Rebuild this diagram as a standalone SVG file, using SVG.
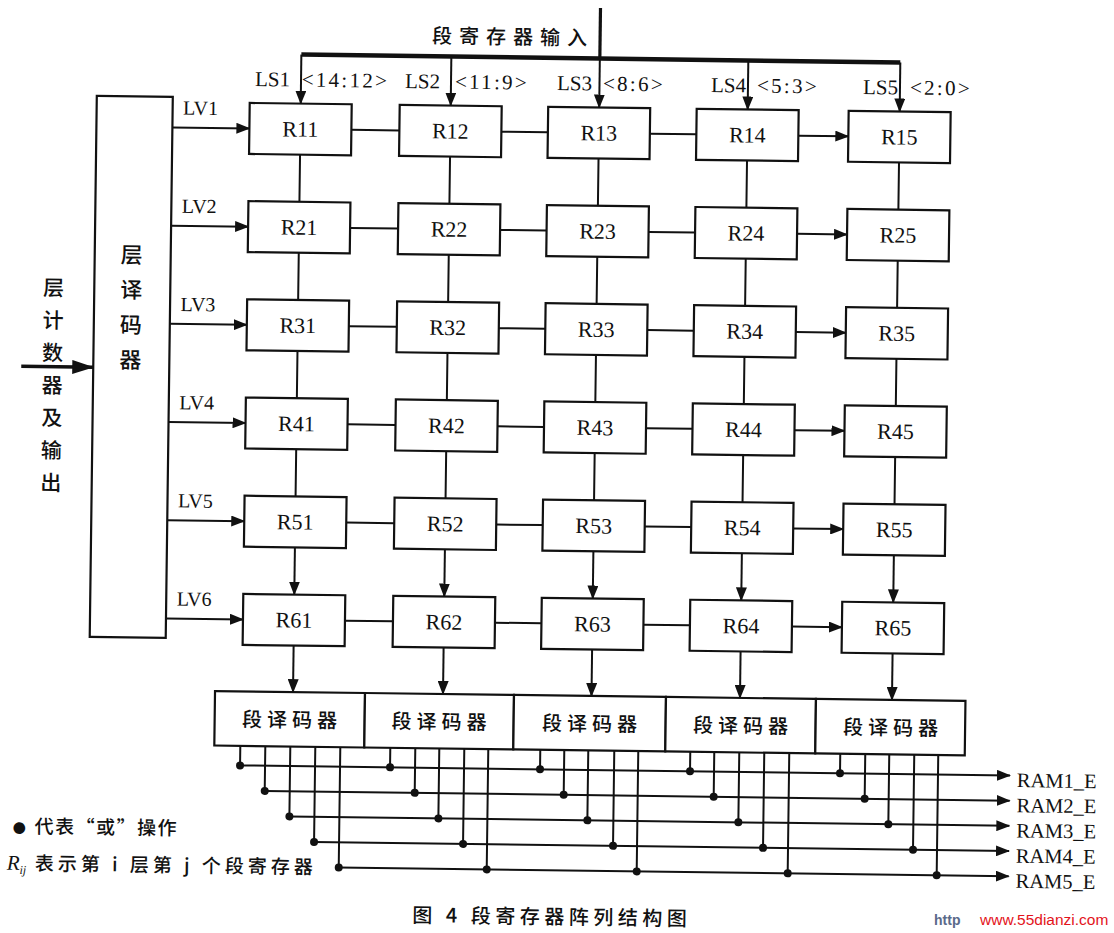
<svg xmlns="http://www.w3.org/2000/svg" width="1114" height="933" viewBox="0 0 1114 933">
<defs>
<style>
.box{fill:#fff;stroke:#111;stroke-width:2.2}
.ln{fill:none;stroke:#111;stroke-width:2}
.arr{fill:none;stroke:#111;stroke-width:2;marker-end:url(#ah)}
.bus{fill:none;stroke:#111;stroke-width:4.5}
.dot{fill:#111}
.lat{font-family:"Liberation Serif","Times New Roman",serif;fill:#111}
.cjk{font-family:"Noto Sans CJK SC","Noto Sans CJK JP",sans-serif;fill:#111;font-weight:500}
.rl{font-size:22px;text-anchor:middle}
.ls{font-size:21px}
.rng{font-size:21px;letter-spacing:2.3px}
.lv{font-size:20px}
.ram{font-size:20.5px}
.dec{font-size:20px;letter-spacing:5px;text-anchor:middle}
.vt{font-size:22px;text-anchor:middle}
</style>
<marker id="ah" viewBox="0 0 14 11" markerWidth="14" markerHeight="11" refX="13" refY="5.5" orient="auto" markerUnits="userSpaceOnUse"><path d="M0,0L14,5.5L0,11z" fill="#111"/></marker>
<marker id="ahb" viewBox="0 0 22 14" markerWidth="22" markerHeight="14" refX="21" refY="7" orient="auto" markerUnits="userSpaceOnUse"><path d="M0,0L22,7L0,14z" fill="#111"/></marker>
</defs>
<rect width="1114" height="933" fill="#fff"/>
<g transform="rotate(0.75 557 466)">
<g id="connectors">
  <path class="ln" style="stroke-width:3.2" d="M594.5 7.4V58"/>
  <path class="bus" d="M296 58H895"/>
  <path class="arr" d="M296 58V107"/>
  <path class="arr" d="M446 58V107"/>
  <path class="arr" d="M594.5 58V107"/>
  <path class="arr" d="M743 58V107"/>
  <path class="arr" d="M895 58V107"/>
  <path class="arr" d="M168 132.5H245"/>
  <path class="arr" d="M168 230.7H245"/>
  <path class="arr" d="M168 328.9H245"/>
  <path class="arr" d="M168 427.1H245"/>
  <path class="arr" d="M168 525.3H245"/>
  <path class="arr" d="M168 623.5H245"/>
  <path class="ln" style="stroke-width:3.5;marker-end:url(#ahb)" d="M20 373.3H92"/>
  <path class="ln" d="M347 132.5H395M497 132.5H543.5M645.5 132.5H692M347 230.7H395M497 230.7H543.5M645.5 230.7H692M347 328.9H395M497 328.9H543.5M645.5 328.9H692M347 427.1H395M497 427.1H543.5M645.5 427.1H692M347 525.3H395M497 525.3H543.5M645.5 525.3H692M347 623.5H395M497 623.5H543.5M645.5 623.5H692"/>
  <path class="arr" d="M794 132.5H844"/>
  <path class="arr" d="M794 230.7H844"/>
  <path class="arr" d="M794 328.9H844"/>
  <path class="arr" d="M794 427.1H844"/>
  <path class="arr" d="M794 525.3H844"/>
  <path class="arr" d="M794 623.5H844"/>
  <path class="ln" d="M296 158V205.2M296 256.2V303.4M296 354.4V401.6M296 452.6V499.8M446 158V205.2M446 256.2V303.4M446 354.4V401.6M446 452.6V499.8M594.5 158V205.2M594.5 256.2V303.4M594.5 354.4V401.6M594.5 452.6V499.8M743 158V205.2M743 256.2V303.4M743 354.4V401.6M743 452.6V499.8M895 158V205.2M895 256.2V303.4M895 354.4V401.6M895 452.6V499.8"/>
  <path class="arr" d="M296 550.8V598"/>
  <path class="arr" d="M446 550.8V598"/>
  <path class="arr" d="M594.5 550.8V598"/>
  <path class="arr" d="M743 550.8V598"/>
  <path class="arr" d="M895 550.8V598"/>
  <path class="arr" d="M296 649V695.5"/>
  <path class="arr" d="M446 649V695.5"/>
  <path class="arr" d="M594.5 649V695.5"/>
  <path class="arr" d="M743 649V695.5"/>
  <path class="arr" d="M895 649V695.5"/>
  <path class="ln" d="M244 750V769.5M269 750V794.7M294 750V819.9M319 750V845.1M344 750V870.3M394 750V769.5M419 750V794.7M443 750V819.9M468 750V845.1M492 750V870.3M544 750V769.5M568 750V794.7M592 750V819.9M618 750V845.1M642 750V870.3M694 750V769.5M718 750V794.7M743 750V819.9M768 750V845.1M793 750V870.3M844 750V769.5M869 750V794.7M893 750V819.9M918 750V845.1M942 750V870.3"/>
  <path class="arr" d="M244 769.5H1014"/>
  <path class="arr" d="M269 794.7H1014"/>
  <path class="arr" d="M294 819.9H1014"/>
  <path class="arr" d="M319 845.1H1014"/>
  <path class="arr" d="M344 870.3H1014"/>
  <g class="dot">
    <circle cx="244" cy="769.5" r="4"/><circle cx="394" cy="769.5" r="4"/><circle cx="544" cy="769.5" r="4"/><circle cx="694" cy="769.5" r="4"/><circle cx="844" cy="769.5" r="4"/>
    <circle cx="269" cy="794.7" r="4"/><circle cx="419" cy="794.7" r="4"/><circle cx="568" cy="794.7" r="4"/><circle cx="718" cy="794.7" r="4"/><circle cx="869" cy="794.7" r="4"/>
    <circle cx="294" cy="819.9" r="4"/><circle cx="443" cy="819.9" r="4"/><circle cx="592" cy="819.9" r="4"/><circle cx="743" cy="819.9" r="4"/><circle cx="893" cy="819.9" r="4"/>
    <circle cx="319" cy="845.1" r="4"/><circle cx="468" cy="845.1" r="4"/><circle cx="618" cy="845.1" r="4"/><circle cx="768" cy="845.1" r="4"/><circle cx="918" cy="845.1" r="4"/>
    <circle cx="344" cy="870.3" r="4"/><circle cx="492" cy="870.3" r="4"/><circle cx="642" cy="870.3" r="4"/><circle cx="793" cy="870.3" r="4"/><circle cx="942" cy="870.3" r="4"/>
  </g>
</g>

<g id="input-label"><text class="cjk" x="507.5" y="44.7" font-size="20" letter-spacing="7" text-anchor="middle">段寄存器输入</text></g>
<g id="ls-labels">
  <text class="lat ls" x="250" y="90">LS1</text><text class="lat rng" x="296.7" y="90">&lt;14:12&gt;</text>
  <text class="lat ls" x="400" y="90">LS2</text><text class="lat rng" x="450" y="90">&lt;11:9&gt;</text>
  <text class="lat ls" x="552" y="90">LS3</text><text class="lat rng" x="598" y="90">&lt;8:6&gt;</text>
  <text class="lat ls" x="706" y="90">LS4</text><text class="lat rng" x="752" y="90">&lt;5:3&gt;</text>
  <text class="lat ls" x="858" y="90">LS5</text><text class="lat rng" x="905" y="90">&lt;2:0&gt;</text>
</g>
<g id="lv-labels">
  <text class="lat lv" x="178.5" y="119.5">LV1</text>
  <text class="lat lv" x="178.5" y="217.7">LV2</text>
  <text class="lat lv" x="178.5" y="315.9">LV3</text>
  <text class="lat lv" x="178.5" y="414.1">LV4</text>
  <text class="lat lv" x="178.5" y="512.3">LV5</text>
  <text class="lat lv" x="178.5" y="610.5">LV6</text>
</g>
<g id="counter-label">
  <text class="cjk" x="51.2" y="302" font-size="21" text-anchor="middle">层</text>
  <text class="cjk" x="51.2" y="334.5" font-size="21" text-anchor="middle">计</text>
  <text class="cjk" x="51.2" y="367" font-size="21" text-anchor="middle">数</text>
  <text class="cjk" x="51.2" y="399.5" font-size="21" text-anchor="middle">器</text>
  <text class="cjk" x="51.2" y="432" font-size="21" text-anchor="middle">及</text>
  <text class="cjk" x="51.2" y="464.5" font-size="21" text-anchor="middle">输</text>
  <text class="cjk" x="51.2" y="497" font-size="21" text-anchor="middle">出</text>
</g>
<g id="layer-decoder">
  <rect class="box" x="92" y="102" width="76" height="541"/>
  <text class="cjk vt" x="129" y="268.6">层</text>
  <text class="cjk vt" x="129" y="303.6">译</text>
  <text class="cjk vt" x="129" y="338.5">码</text>
  <text class="cjk vt" x="129" y="373.4">器</text>
</g>

<g id="R11"><rect class="box" x="245" y="107" width="102" height="51"/><text class="lat rl" x="296" y="140">R11</text></g>
<g id="R12"><rect class="box" x="395" y="107" width="102" height="51"/><text class="lat rl" x="446" y="140">R12</text></g>
<g id="R13"><rect class="box" x="543.5" y="107" width="102" height="51"/><text class="lat rl" x="594.5" y="140">R13</text></g>
<g id="R14"><rect class="box" x="692" y="107" width="102" height="51"/><text class="lat rl" x="743" y="140">R14</text></g>
<g id="R15"><rect class="box" x="844" y="107" width="102" height="51"/><text class="lat rl" x="895" y="140">R15</text></g>

<g id="R21"><rect class="box" x="245" y="205.2" width="102" height="51"/><text class="lat rl" x="296" y="238.2">R21</text></g>
<g id="R22"><rect class="box" x="395" y="205.2" width="102" height="51"/><text class="lat rl" x="446" y="238.2">R22</text></g>
<g id="R23"><rect class="box" x="543.5" y="205.2" width="102" height="51"/><text class="lat rl" x="594.5" y="238.2">R23</text></g>
<g id="R24"><rect class="box" x="692" y="205.2" width="102" height="51"/><text class="lat rl" x="743" y="238.2">R24</text></g>
<g id="R25"><rect class="box" x="844" y="205.2" width="102" height="51"/><text class="lat rl" x="895" y="238.2">R25</text></g>

<g id="R31"><rect class="box" x="245" y="303.4" width="102" height="51"/><text class="lat rl" x="296" y="336.4">R31</text></g>
<g id="R32"><rect class="box" x="395" y="303.4" width="102" height="51"/><text class="lat rl" x="446" y="336.4">R32</text></g>
<g id="R33"><rect class="box" x="543.5" y="303.4" width="102" height="51"/><text class="lat rl" x="594.5" y="336.4">R33</text></g>
<g id="R34"><rect class="box" x="692" y="303.4" width="102" height="51"/><text class="lat rl" x="743" y="336.4">R34</text></g>
<g id="R35"><rect class="box" x="844" y="303.4" width="102" height="51"/><text class="lat rl" x="895" y="336.4">R35</text></g>

<g id="R41"><rect class="box" x="245" y="401.6" width="102" height="51"/><text class="lat rl" x="296" y="434.6">R41</text></g>
<g id="R42"><rect class="box" x="395" y="401.6" width="102" height="51"/><text class="lat rl" x="446" y="434.6">R42</text></g>
<g id="R43"><rect class="box" x="543.5" y="401.6" width="102" height="51"/><text class="lat rl" x="594.5" y="434.6">R43</text></g>
<g id="R44"><rect class="box" x="692" y="401.6" width="102" height="51"/><text class="lat rl" x="743" y="434.6">R44</text></g>
<g id="R45"><rect class="box" x="844" y="401.6" width="102" height="51"/><text class="lat rl" x="895" y="434.6">R45</text></g>

<g id="R51"><rect class="box" x="245" y="499.8" width="102" height="51"/><text class="lat rl" x="296" y="532.8">R51</text></g>
<g id="R52"><rect class="box" x="395" y="499.8" width="102" height="51"/><text class="lat rl" x="446" y="532.8">R52</text></g>
<g id="R53"><rect class="box" x="543.5" y="499.8" width="102" height="51"/><text class="lat rl" x="594.5" y="532.8">R53</text></g>
<g id="R54"><rect class="box" x="692" y="499.8" width="102" height="51"/><text class="lat rl" x="743" y="532.8">R54</text></g>
<g id="R55"><rect class="box" x="844" y="499.8" width="102" height="51"/><text class="lat rl" x="895" y="532.8">R55</text></g>

<g id="R61"><rect class="box" x="245" y="598" width="102" height="51"/><text class="lat rl" x="296" y="631">R61</text></g>
<g id="R62"><rect class="box" x="395" y="598" width="102" height="51"/><text class="lat rl" x="446" y="631">R62</text></g>
<g id="R63"><rect class="box" x="543.5" y="598" width="102" height="51"/><text class="lat rl" x="594.5" y="631">R63</text></g>
<g id="R64"><rect class="box" x="692" y="598" width="102" height="51"/><text class="lat rl" x="743" y="631">R64</text></g>
<g id="R65"><rect class="box" x="844" y="598" width="102" height="51"/><text class="lat rl" x="895" y="631">R65</text></g>

<g id="SD1"><rect class="box" x="218" y="695.5" width="150" height="54.5"/><text class="cjk dec" x="295.5" y="730.5">段译码器</text></g>
<g id="SD2"><rect class="box" x="368" y="695.5" width="149" height="54.5"/><text class="cjk dec" x="445" y="730.5">段译码器</text></g>
<g id="SD3"><rect class="box" x="517" y="695.5" width="152" height="54.5"/><text class="cjk dec" x="595.5" y="730.5">段译码器</text></g>
<g id="SD4"><rect class="box" x="669" y="695.5" width="150" height="54.5"/><text class="cjk dec" x="746.5" y="730.5">段译码器</text></g>
<g id="SD5"><rect class="box" x="819" y="695.5" width="149.5" height="54.5"/><text class="cjk dec" x="896.5" y="730.5">段译码器</text></g>

<g id="ram-labels">
  <text class="lat ram" x="1021" y="781">RAM1_E</text>
  <text class="lat ram" x="1021" y="806.2">RAM2_E</text>
  <text class="lat ram" x="1021" y="831.4">RAM3_E</text>
  <text class="lat ram" x="1021" y="856.6">RAM4_E</text>
  <text class="lat ram" x="1021" y="881.8">RAM5_E</text>
</g>

<g id="legend">
  <text class="cjk" y="840"><tspan x="17.5" font-size="13">●</tspan><tspan x="39.4" font-size="19" letter-spacing="1.5">代表“或”操作</tspan></text>
  <text y="877"><tspan class="lat" x="12" font-size="21" font-style="italic">R</tspan><tspan class="lat" font-size="12" font-style="italic" dy="4">ij</tspan><tspan class="cjk" x="40" dy="-4" font-size="19" letter-spacing="4">表示第 i 层第 j 个段寄存器</tspan></text>
</g>
<g id="caption"><text class="cjk" x="418.3" y="924" font-size="20" letter-spacing="4.5">图 4 段寄存器阵列结构图</text></g>
</g>
<g id="watermark">
  <text x="934" y="925" font-family="Liberation Sans, Arial, sans-serif" font-size="14" font-weight="bold" fill="#5a6a8a">http</text>
  <text x="980" y="925" font-family="Liberation Sans, Arial, sans-serif" font-size="15.5" fill="#e3131b">www.55dianzi.com</text>
</g>
</svg>
